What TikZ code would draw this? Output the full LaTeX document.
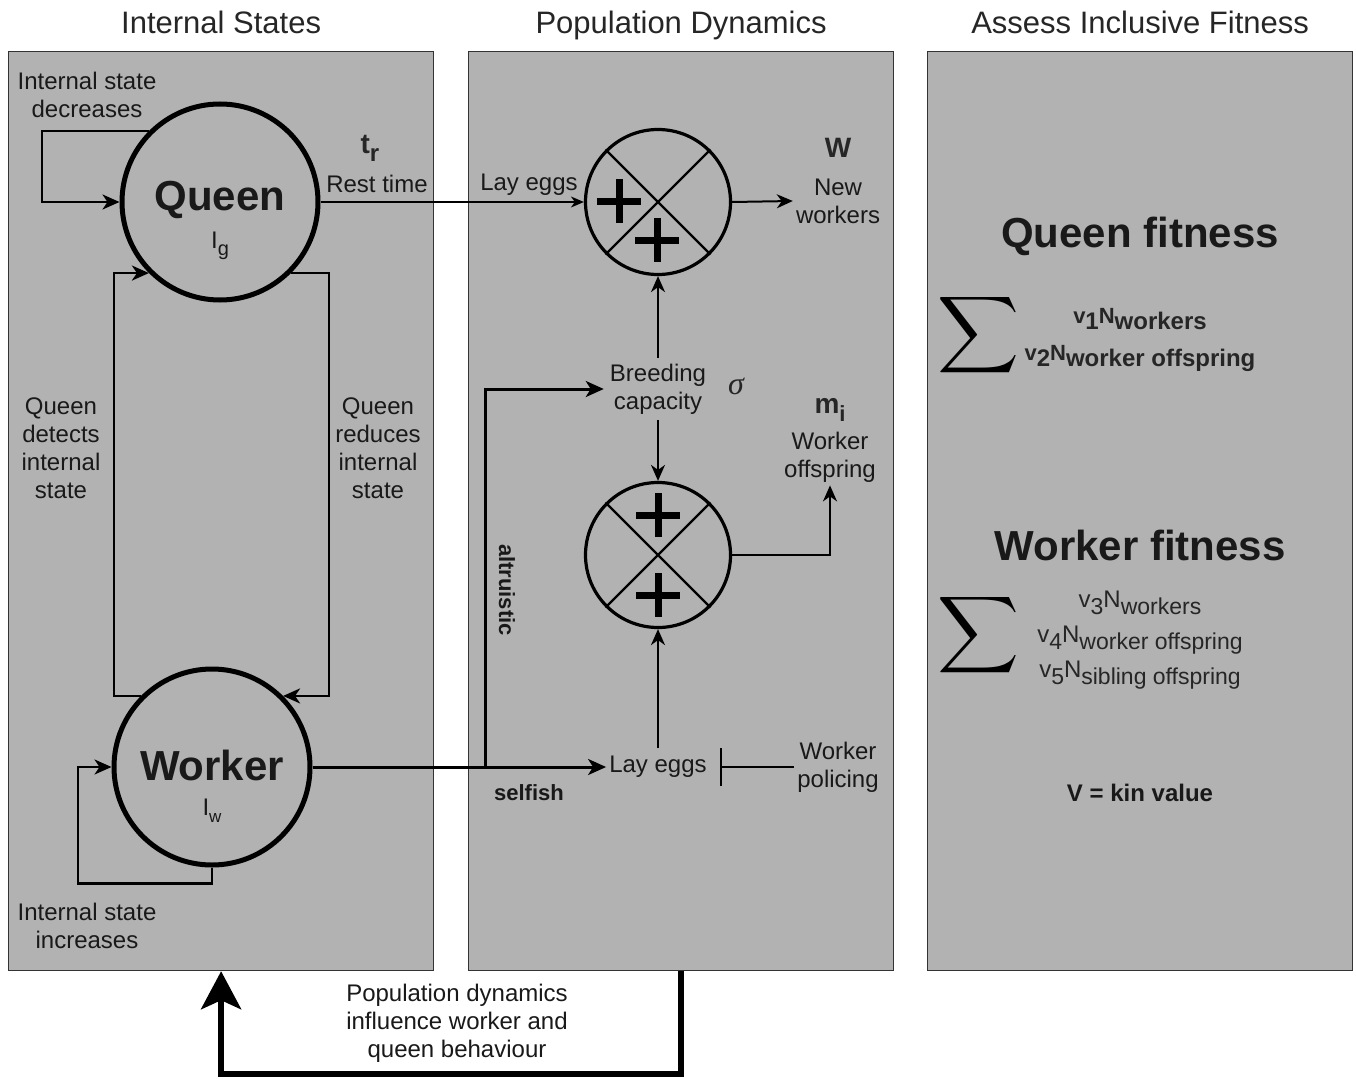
\documentclass[tikz,border=0pt]{standalone}
\usepackage{fontspec}
\setmainfont{Liberation Sans}
\newfontfamily\greekserif{Liberation Serif}
\usetikzlibrary{arrows.meta,positioning}

% lowered text for the hand-set subscripts
\newcommand\lowtxt[2]{\raisebox{-.28em}{\fontsize{#1}{#1}\selectfont #2}}

\tikzset{
  panel/.style={draw=black!80, line width=1.2pt, fill=black!30, minimum width=425pt, minimum height=919pt, anchor=north west, inner sep=0pt},
  ttl/.style={font=\fontsize{31}{36}\selectfont, anchor=base, text=black!85},
  lbl/.style={font=\fontsize{24}{28}\selectfont, align=center, inner sep=3pt, text=black!90},
  blbl/.style={lbl, font=\fontsize{24}{28}\selectfont\bfseries},
  big/.style={font=\fontsize{42}{44}\selectfont\bfseries, text=black!90},
  agent/.style={circle, draw, line width=5pt, minimum size=196pt, inner sep=0pt},
  mult/.style={circle, draw, line width=3.2pt, minimum size=145pt, inner sep=0pt},
  mulx/.style={line width=2.2pt},
  plusln/.style={line width=7pt},
  loopln/.style={line width=2.5pt, -{Stealth[length=17pt,width=15pt,inset=5pt]}},
  link/.style={line width=2pt, -{Stealth[length=16pt,width=14pt,inset=5pt]}},
  thinlink/.style={line width=1.2pt, -{Stealth[length=13pt,width=11pt,inset=4pt]}},
  wline/.style={line width=3pt, -{Stealth[length=18pt,width=16pt,inset=5pt]}},
  inhib/.style={line width=2pt, -{Bar[width=38pt,line width=2.5pt]}, shorten >=10pt},
  feedback/.style={line width=6pt, -{Stealth[length=38pt,width=40pt,inset=9pt]}},
}

\begin{document}
\begin{tikzpicture}[x=1pt, y=-1pt]
  \path[fill=white, use as bounding box] (0,0) rectangle (1356,1078);

  % three panels
  \node[panel] (is) at (8,51) {};
  \node[panel] (pd) at (468,51) {};
  \node[panel] (af) at (927,51) {};
  \node[ttl] (tis) at ([yshift=17pt]is.north) {Internal States};
  \node[ttl] (tpd) at ([yshift=17pt]pd.north) {Population Dynamics};
  \node[ttl] (taf) at ([yshift=17pt]af.north) {Assess Inclusive Fitness};

  % queen and worker
  \node[agent] (Q) at (220,202) {};
  \node[big] (qname) at (220,200) {Queen};
  \node[lbl] (qsym) at (220,246) {I\lowtxt{20}{g}};
  \node[agent] (W) at (212,767) {};
  \node[big] (wname) at (212,765) {Worker};
  \node[lbl] (wsym) at (212,811) {I\lowtxt{17}{w}};

  \node[lbl] (dec) at (87,95) {Internal state\\decreases};
  \node[lbl] (inc) at (87,926) {Internal state\\increases};
  \node[lbl] (detect) at (61,448) {Queen\\detects\\internal\\state};
  \node[lbl] (reduce) at (378,448) {Queen\\reduces\\internal\\state};
  \node[font=\fontsize{28}{30}\selectfont\bfseries, text=black!85] (trest) at (370,148) {t\lowtxt{24}{r}};
  \node[lbl] (rest) at (377,184) {Rest time};

  \draw[loopln] (Q.135) -- ++(-107,0) |- (Q.west);
  \draw[loopln] (W.135) -- ++(-27,0) |- (Q.225);
  \draw[loopln] (Q.-45) -- ++(38,0) |- (W.45);
  \draw[loopln] (W.south) -- ++(0,16) -- ++(-134,0) |- (W.west);

  % population dynamics
  \node[mult] (M1) at (658,202) {};
  \node[mult] (M2) at (658,555) {};
  \draw[mulx] (M1.45) -- (M1.225) (M1.135) -- (M1.315);
  \draw[mulx] (M2.45) -- (M2.225) (M2.135) -- (M2.315);
  \foreach \p in {(619,201),(657,240),(658,515),(658,595)}
    \draw[plusln] \p +(-22,0) -- +(22,0) \p +(0,-22) -- +(0,22);

  \node[lbl] (layq) at (529,185) {Lay eggs};
  \node[font=\fontsize{28}{30}\selectfont\bfseries, text=black!85] (wsymb) at (838,148) {W};
  \node[lbl] (neww) at (838,201) {New\\workers};
  \node[lbl, inner sep=6pt] (breed) at (658,389) {Breeding\\capacity};
  \node[font=\greekserif\itshape\fontsize{32}{34}\selectfont, text=black!85] (sig) at (736,386) {σ};
  \node[font=\fontsize{28}{30}\selectfont\bfseries, text=black!85] (msym) at (830,410) {m\lowtxt{22}{i}};
  \node[lbl] (woff) at (830,457) {Worker\\offspring};
  \node[lbl, inner sep=8pt] (layw) at (658,767) {Lay eggs};
  \node[lbl] (pol) at (838,767) {Worker\\policing};
  \node[blbl, font=\fontsize{22}{26}\selectfont\bfseries, rotate=-90] (alt) at (507,590) {altruistic};
  \node[blbl, font=\fontsize{22}{26}\selectfont\bfseries] (self) at (529,793) {selfish};

  \draw[thinlink] (Q.east) -- (M1.west);
  \draw[link] (M1.east) -- (neww.west);
  \draw[link] (breed.north) -- (M1.south);
  \draw[link] (breed.south) -- (M2.north);
  \draw[link] (layw.north) -- (M2.south);
  \draw[link] (M2.east) -| (woff.south);
  \draw[inhib, shorten >=5pt] (pol.west) -- (layw.east);
  \coordinate (fork) at (485,767);
  \draw[wline, shorten >=-5pt] (W.east) -- (layw.west);
  \draw[wline] (fork) |- (breed.west);

  % feedback to internal states
  \draw[feedback] (pd.south) -- ++(0,103) -| (is.south);
  \node[lbl] (fbtext) at (457,1023) {Population dynamics\\influence worker and\\queen behaviour};

  % inclusive fitness
  \node[big] (qfit) at (1140,236) {Queen fitness};
  \node[inner sep=0pt] (qsum) at (979,335) {\resizebox*{82pt}{86pt}{$\displaystyle\sum$}};
  \node[align=center, font=\fontsize{22}{37}\selectfont\bfseries, text=black!85] (qterms) at (1140,340)
    {v\lowtxt{24}{1}N\lowtxt{24}{workers}\\v\lowtxt{24}{2}N\lowtxt{24}{worker offspring}};
  \node[big] (wfit) at (1140,545) {Worker fitness};
  \node[inner sep=0pt] (wsum) at (979,635) {\resizebox*{82pt}{86pt}{$\displaystyle\sum$}};
  \node[align=center, font=\fontsize{24}{35}\selectfont, text=black!85] (wterms) at (1140,640)
    {v\lowtxt{23}{3}N\lowtxt{23}{workers}\\v\lowtxt{23}{4}N\lowtxt{23}{worker offspring}\\v\lowtxt{23}{5}N\lowtxt{23}{sibling offspring}};
  \node[blbl] (kin) at (1140,793) {V = kin value};
\end{tikzpicture}
\end{document}
